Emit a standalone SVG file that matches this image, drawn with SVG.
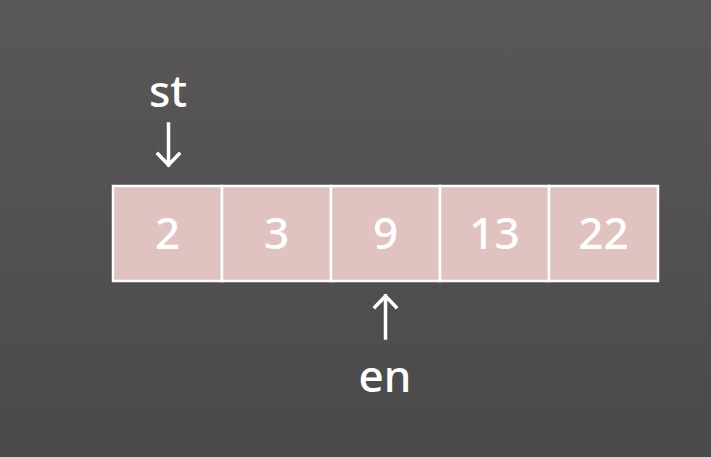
<svg xmlns="http://www.w3.org/2000/svg" width="711" height="457" viewBox="0 0 711 457">
<defs>
<linearGradient id="bg" x1="0" y1="0" x2="0" y2="1">
<stop offset="0" stop-color="#595758"/>
<stop offset="1" stop-color="#4b4a4b"/>
</linearGradient>
</defs>
<style>
.cell{fill:#e0c3c1;stroke:#ffffff;stroke-width:2.5}
.t{font-family:"Noto Sans","Open Sans",sans-serif;font-size:44px;font-weight:500;fill:#ffffff;text-anchor:middle}
.lbl{font-family:"Noto Sans","Open Sans",sans-serif;font-size:44px;font-weight:500;fill:#ffffff;text-anchor:middle}
.arr{fill:none;stroke:#ffffff;stroke-width:3.5;stroke-linecap:square}
</style>
<rect width="711" height="457" fill="url(#bg)"/>
<g id="cell0"><rect class="cell" x="113" y="186" width="109" height="95"/><text class="t" x="167.5" y="249">2</text></g>
<g id="cell1"><rect class="cell" x="222" y="186" width="109" height="95"/><text class="t" x="276.5" y="249">3</text></g>
<g id="cell2"><rect class="cell" x="331" y="186" width="109" height="95"/><text class="t" x="385.5" y="249">9</text></g>
<g id="cell3"><rect class="cell" x="440" y="186" width="109" height="95"/><text class="t" x="494.5" y="249">13</text></g>
<g id="cell4"><rect class="cell" x="549" y="186" width="109" height="95"/><text class="t" x="603.5" y="249">22</text></g>
<g id="st"><text class="lbl" x="168" y="107">st</text></g>
<g id="en"><text class="lbl" x="385" y="392">en</text></g>
<g id="connectors">
<path class="arr" d="M168.5 124 V165 M158 154 L168.5 165 L179 154"/>
<path class="arr" d="M385.5 338 V296 M375 307 L385.5 296 L396 307"/>
</g>
</svg>
